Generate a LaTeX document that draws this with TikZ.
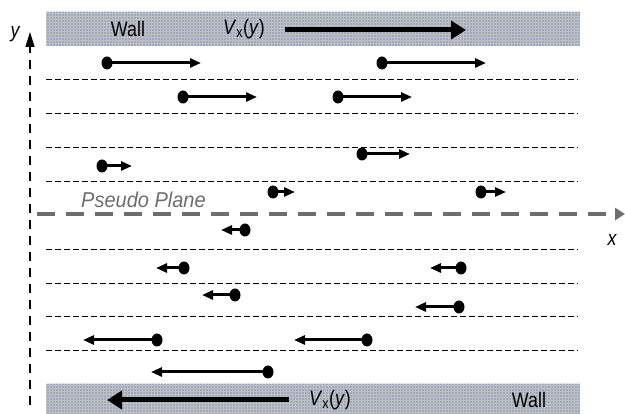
\documentclass[tikz,border=0pt]{standalone}
\usepackage{fontspec}
\setmainfont{Liberation Sans}
\newfontfamily\narrowfont[FakeStretch=0.85]{Liberation Sans}
\newfontfamily\planefont[FakeStretch=0.93]{Liberation Sans}
\usetikzlibrary{arrows.meta,shapes.geometric,patterns.meta}
\definecolor{wallgray}{RGB}{192,193,196}
\definecolor{walldot}{RGB}{60,95,165}
\definecolor{planegray}{RGB}{110,110,110}
\tikzset{
  wall/.style={fill=wallgray, draw=none},
  wallpat/.style={pattern={Dots[distance=3pt,radius=0.65pt]}, pattern color=walldot},
  layer/.style={draw=black, line width=0.9pt, dash pattern=on 5.5pt off 3.5pt},
  dot/.style={ellipse, fill=black, inner sep=0pt, minimum width=11pt, minimum height=13pt},
  flow/.style={line width=3pt, -{Triangle[length=11pt,width=9pt]}, shorten <=-1pt},
  wallflow/.style={line width=5pt, -{Triangle[length=15pt,width=18pt]}},
  lbl/.style={font=\narrowfont\fontsize{21}{23}\selectfont, inner sep=0pt}
}
\begin{document}
\begin{tikzpicture}[x=1pt,y=-1pt]
\useasboundingbox (0,0) rectangle (625,414);

% walls
\fill[wall] (46,12) rectangle (580,46);
\fill[wallpat] (46,12) rectangle (580,46);
\fill[wall] (46,384) rectangle (580,414);
\fill[wallpat] (46,384) rectangle (580,414);

% thin layer lines
\foreach \yy in {79,113,147,181,249,283,316,350}
  \draw[layer] (46,\yy) -- (578,\yy);

% y axis
\coordinate (ybot) at (30,405);
\coordinate (ytop) at (30,32);
\draw[line width=1.3pt, dash pattern=on 9pt off 7pt, -{Triangle[length=15pt,width=9pt]}] (ybot) -- (ytop);
\node[lbl, font=\narrowfont\fontsize{21}{23}\selectfont\itshape] (ylab) at (15,34) {y};

% pseudo plane
\coordinate (pstart) at (37,214);
\coordinate (pend) at (625,214);
\draw[planegray, line width=3.4pt, dash pattern=on 18pt off 11pt, -{Triangle[length=10pt,width=12pt]}] (pstart) -- (pend);
\node[lbl, planegray, font=\planefont\fontsize{21.5}{23}\selectfont\itshape, anchor=west] (plab) at (81,200) {Pseudo Plane};
\node[lbl, font=\narrowfont\fontsize{21}{23}\selectfont\itshape] (xlab) at (612,240) {x};

% top wall labels and velocity
\node[lbl] (wtop) at (128,29) {Wall};
\node[lbl] (vtop) at (244,29) {\textit{V}\textsubscript{x}(\textit{y})};
\coordinate (vts) at (285,30);
\coordinate (vte) at (466,30);
\draw[wallflow] (vts) -- (vte);

% bottom wall labels and velocity
\node[lbl] (vbot) at (330,400) {\textit{V}\textsubscript{x}(\textit{y})};
\node[lbl] (wbot) at (529,400) {Wall};
\coordinate (vbs) at (289,400);
\coordinate (vbe) at (107,400);
\draw[wallflow] (vbs) -- (vbe);

% particles and their velocities
\foreach \n/\xa/\xb/\yy in {
   a/107/201/63, b/382/486/63,
   c/183/257/97, d/338/412/97,
   e/362/410/154,
   f/102/132/166,
   g/273/295/192, h/481/506/192,
   i/245/221/230,
   j/184/156/268, k/461/430/268,
   l/235/202/295,
   m/459/415/307,
   n/157/83/340, o/367/294/340,
   p/268/151/372}
{
  \node[dot] (d\n) at (\xa,\yy) {};
  \coordinate (t\n) at (\xb,\yy);
  \draw[flow] (d\n) -- (t\n);
}
\end{tikzpicture}
\end{document}
